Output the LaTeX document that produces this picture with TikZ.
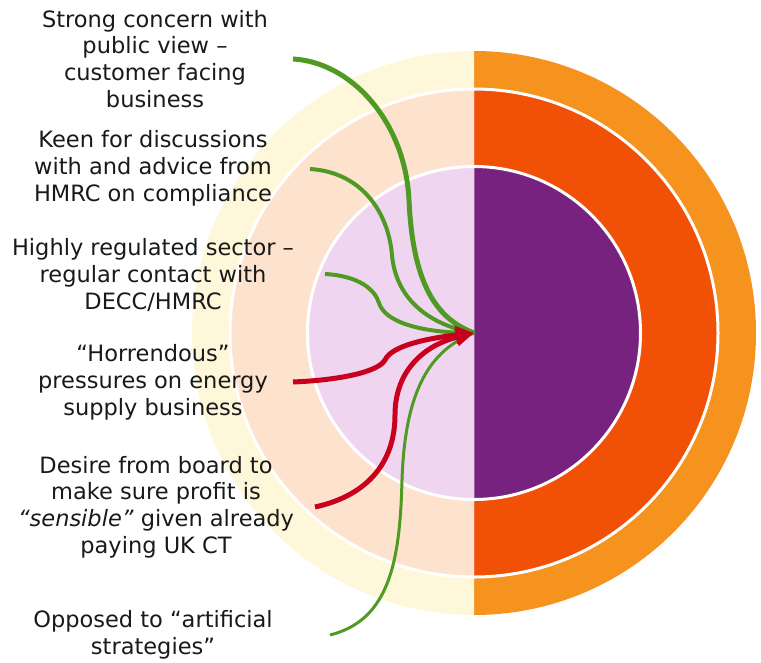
\documentclass[tikz,border=0pt]{standalone}
\usepackage{fontspec}
\setmainfont{DejaVu Sans}
\usepackage{tikz}
\usetikzlibrary{arrows.meta}
\definecolor{ring_orange}{RGB}{246, 146, 30}
\definecolor{ring_red}{RGB}{240, 81, 6}
\definecolor{core_purple}{RGB}{120, 34, 128}
\definecolor{ring_yellow}{RGB}{255, 247, 217}
\definecolor{ring_peach}{RGB}{253, 227, 206}
\definecolor{core_lilac}{RGB}{240, 213, 241}
\definecolor{pull_green}{RGB}{78, 154, 34}
\definecolor{push_red}{RGB}{200, 0, 30}
\definecolor{note_text}{RGB}{25, 25, 25}

\begin{document}
\begin{tikzpicture}[x=1pt, y=-1pt,
        note/.style={align=center, text=note_text, inner sep=0pt,
                     font=\fontsize{22.5}{26.8}\selectfont},
        pull/.style={draw=pull_green},
        push/.style={draw=push_red, line width=5pt,
                     -{Triangle[length=18pt, width=17pt]}},
      ]
        \useasboundingbox (0,0) rectangle (761,662);
        \coordinate (mid) at (474,333);

        % right half: saturated rings
        \begin{scope}
          \clip (474,0) rectangle (761,662);
          \fill[ring_orange] (mid) circle[radius=282pt];
          \fill[ring_red] (mid) circle[radius=244pt];
          \fill[core_purple] (mid) circle[radius=166pt];
        \end{scope}
        % left half: pale rings
        \begin{scope}
          \clip (0,0) rectangle (474,662);
          \fill[ring_yellow] (mid) circle[radius=282pt];
          \fill[ring_peach] (mid) circle[radius=244pt];
          \fill[core_lilac] (mid) circle[radius=166pt];
        \end{scope}
        \draw[white, line width=3pt] (mid) circle[radius=244pt];
        \draw[white, line width=3pt] (mid) circle[radius=166.5pt];

        \node[note] (n1) at (155,59)
          {Strong concern with\\public view –\\customer facing\\business};
        \node[note] (n2) at (153,168)
          {Keen for discussions\\with and advice from\\HMRC on compliance};
        \node[note] (n3) at (153,275)
          {Highly regulated sector –\\regular contact with\\DECC/HMRC};
        \node[note] (n4) at (153,382)
          {“Horrendous”\\pressures on energy\\supply business};
        \node[note] (n5) at (156,507)
          {Desire from board to\\make sure profit is\\\textit{“sensible”} given already\\paying UK CT};
        \node[note] (n6) at (153,635)
          {Opposed to “artificial\\strategies”};

        \coordinate (s1) at (293,59);
        \coordinate (s2) at (310,169);
        \coordinate (s3) at (325,274);
        \coordinate (s4) at (293,382);
        \coordinate (s5) at (315,507);
        \coordinate (s6) at (330,635);

        \draw[pull, line width=5pt] (s1)
          .. controls (350,62) and (405,120) .. (409,200)
          .. controls (413,290) and (440,320) .. (mid);
        \draw[pull, line width=4pt] (s2)
          .. controls (360,172) and (388,210) .. (392,255)
          .. controls (396,300) and (430,325) .. (mid);
        \draw[pull, line width=4pt] (s3)
          .. controls (360,276) and (375,290) .. (379,303)
          .. controls (385,322) and (420,333) .. (mid);
        \draw[pull, line width=3pt] (s6)
          .. controls (390,620) and (400,560) .. (402,480)
          .. controls (405,390) and (430,350) .. (mid);

        \draw[push] (s5)
          .. controls (370,495) and (395,460) .. (395,415)
          .. controls (395,370) and (425,345) .. (mid);
        \draw[push] (s4)
          .. controls (340,380) and (378,372) .. (385,360)
          .. controls (392,345) and (430,338) .. (mid);
      \end{tikzpicture}
\end{document}
